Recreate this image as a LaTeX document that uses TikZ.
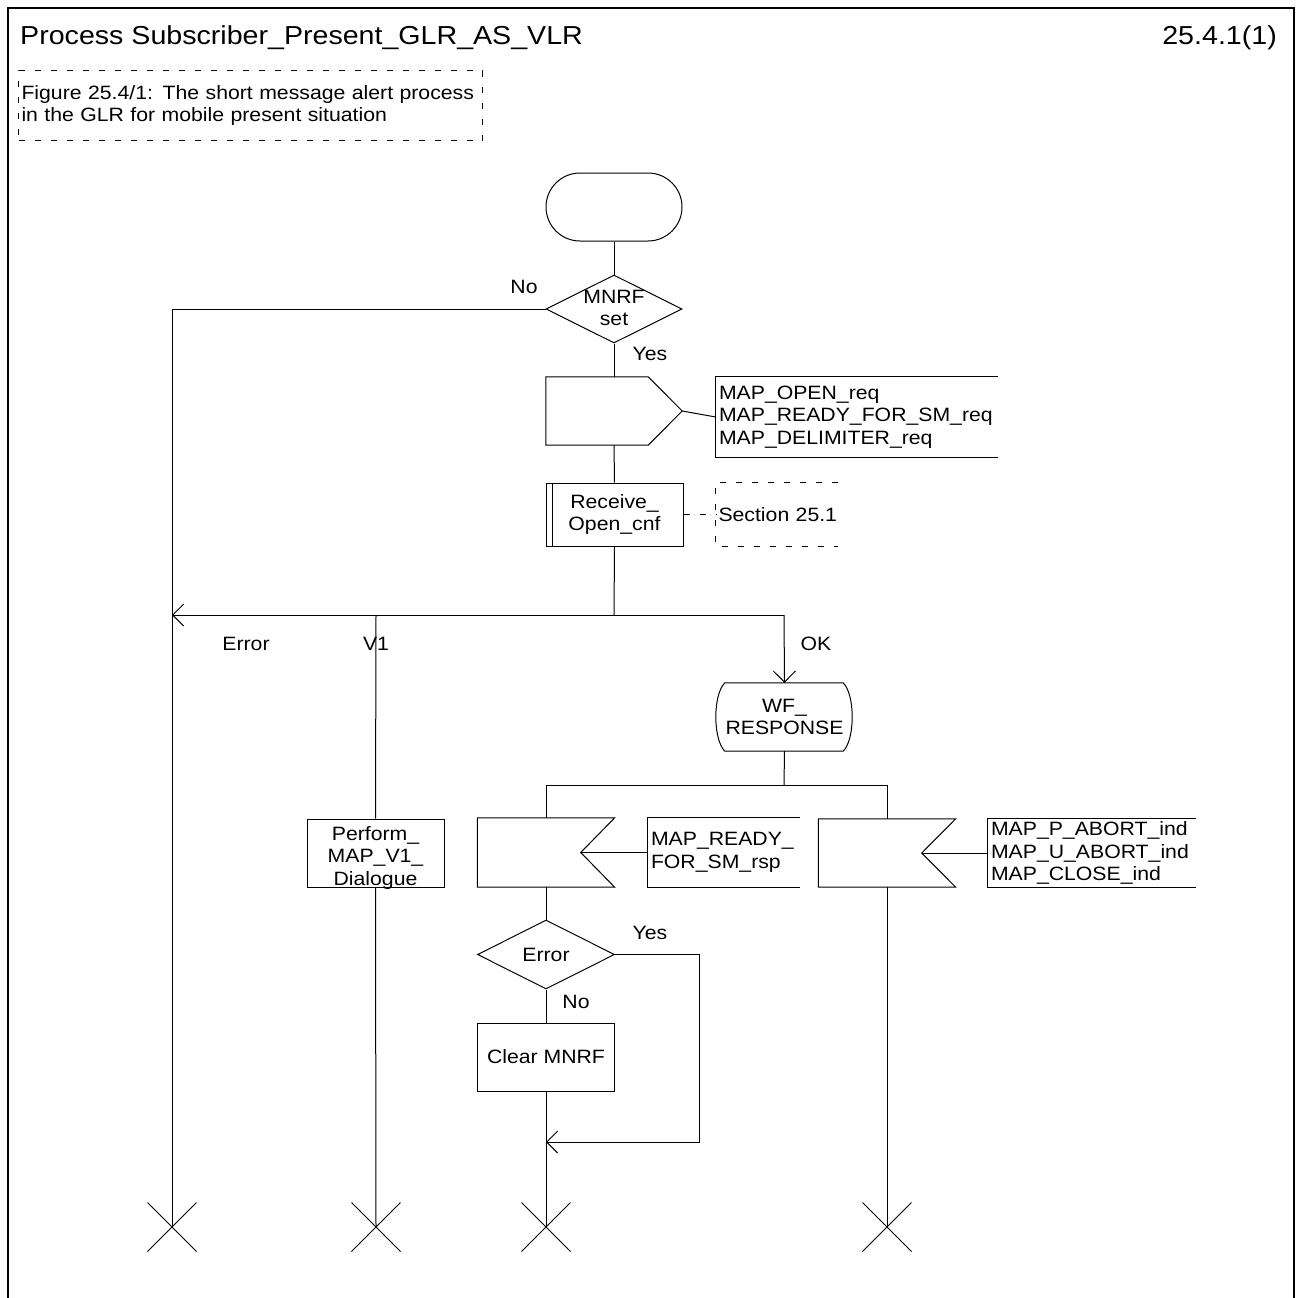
\documentclass[tikz,border=0pt]{standalone}
\usepackage{fontspec}
\setmainfont[FakeStretch=1.1]{Liberation Sans}
\usetikzlibrary{arrows.meta,shapes.geometric,shapes.misc}
\begin{document}
\begin{tikzpicture}[x=1pt,y=-1pt,
  every node/.style={font=\fontsize{19.3}{22.5}\selectfont, inner sep=0pt},
  ln/.style={line width=1pt},
  frame/.style={line width=2.5pt},
  cdash/.style={dash pattern=on 6pt off 10pt},
  arr/.style={-{Straight Barb[length=11pt,width=22pt]}},
  bigtxt/.style={font=\fontsize{26}{30}\selectfont},
  endx/.style={cross out, draw, line width=1pt, minimum size=48pt}]
\useasboundingbox (0,0) rectangle (1297,1298);
\draw[frame] (8,1298) -- (8,8) -- (1294,8) -- (1294,1298);
\node[bigtxt, anchor=west] (title) at (20,38) {Process Subscriber\_Present\_GLR\_AS\_VLR};
\node[bigtxt, anchor=east] (pagenum) at (1277,38) {25.4.1(1)};
\node[draw, ln, cdash, anchor=north west, minimum width=464pt, minimum height=70pt, text width=458pt, inner xsep=3pt, align=left] (fig) at (18,70) {Figure 25.4/1: The short message alert process\\in the GLR for mobile present situation};

% start
\node[draw, ln, rounded corners=34pt, minimum width=136pt, minimum height=68pt] (start) at (614,207) {};
% decision MNRF
\node[draw, ln, diamond, minimum width=136pt, minimum height=68pt, label={[align=center, yshift=1pt]center:{MNRF\\set}}] (mnrf) at (614,309) {};
\draw[ln] (start.south) -- (mnrf.north);
% output
\node[minimum width=136pt, minimum height=68pt] (out) at (614,411) {};
\draw[ln] (out.north west) -- ([xshift=-34pt]out.north east) -- (out.east) -- ([xshift=-34pt]out.south east) -- (out.south west) -- cycle;
\draw[ln] (mnrf.south) -- (out.north);
\node[minimum width=282pt, minimum height=80pt, text width=276pt, inner xsep=3pt, align=left] (outsig) at (857,417) {MAP\_OPEN\_req\\MAP\_READY\_FOR\_SM\_req\\MAP\_DELIMITER\_req};
\draw[ln] (outsig.north east) -- (outsig.north west) -- (outsig.south west) -- (outsig.south east);
\draw[ln] (out.east) -- (outsig.west);
% procedure
\node[draw, ln, minimum width=137pt, minimum height=63pt, align=center] (recv) at (614.5,514.5) {Receive\_\\Open\_cnf};
\draw[ln] ([xshift=7pt]recv.north west) -- ([xshift=7pt]recv.south west);
\draw[ln] (out.south) -- (recv.north);
\node[minimum width=122pt, minimum height=63pt, text width=117pt, inner xsep=2.5pt, align=left] (sec) at (777,514.5) {\mbox{Section 25.1}};
\draw[ln, cdash] (sec.north east) -- (sec.north west) -- (sec.south west) -- (sec.south east);
\draw[ln, cdash] (recv.east) -- (sec.west);

% crosses
\node[endx] (end1) at (172,1227) {};
\node[endx] (end2) at (376,1227) {};
\node[endx] (end3) at (546,1227) {};
\node[endx] (end4) at (887,1227) {};

% branch after procedure
\coordinate (br) at (614,615);
\coordinate (brL) at (172,615);
\coordinate (brV1) at (376,615);
\coordinate (brOK) at (784,615);
\draw[ln] (recv.south) -- (br);
\draw[ln, arr] (brOK) -- (brL);
\draw[ln] (mnrf.west) -| (end1.center);
\node (lNo) at (524,287) {No};
\node (lYes) at (650,354) {Yes};
\node (lErr) at (246,644) {Error};
\node (lV1) at (376,644) {V1};
\node (lOK) at (816,644) {OK};

% V1
\node[draw, ln, minimum width=137pt, minimum height=68pt, label={[align=center, yshift=-5pt]center:{Perform\_\\MAP\_V1\_\\Dialogue}}] (perf) at (375.5,853) {};
\draw[ln] (brV1) -- (perf.north);
\draw[ln] (perf.south) -- (end2.center);

% state
\node[minimum width=135pt, minimum height=68pt, align=center] (wf) at (784.5,717) {WF\_\\RESPONSE};
\draw[ln] ([xshift=8pt]wf.north west) -- ([xshift=-9pt]wf.north east)
  .. controls ([xshift=3pt,yshift=-12pt]wf.north east) and ([xshift=3pt,yshift=12pt]wf.south east) .. ([xshift=-9pt]wf.south east)
  -- ([xshift=8pt]wf.south west)
  .. controls ([xshift=-4pt,yshift=12pt]wf.south west) and ([xshift=-4pt,yshift=-12pt]wf.north west) .. cycle;
\draw[ln, arr] (brOK) -- (wf.north);

% branch after state
\coordinate (b2) at (784,785);
\coordinate (b2L) at (546,785);
\coordinate (b2R) at (887,785);
\draw[ln] (wf.south) -- (b2);
\draw[ln] (b2L) -- (b2R);

% input 1
\node[minimum width=137pt, minimum height=69pt] (in1) at (546,852.5) {};
\draw[ln] (in1.north west) -- (in1.north east) -- ([xshift=-34pt]in1.east) -- (in1.south east) -- (in1.south west) -- cycle;
\draw[ln] (b2L) -- (in1.north);
\node[minimum width=152pt, minimum height=69pt, text width=146pt, inner xsep=3pt, align=left] (in1sig) at (724,852.5) {MAP\_READY\_\\FOR\_SM\_rsp};
\draw[ln] (in1sig.north east) -- (in1sig.north west) -- (in1sig.south west) -- (in1sig.south east);
\draw[ln] ([xshift=-34pt]in1.east) -- (in1sig.west);

% input 2
\node[minimum width=137pt, minimum height=68pt] (in2) at (887,853) {};
\draw[ln] (in2.north west) -- (in2.north east) -- ([xshift=-34pt]in2.east) -- (in2.south east) -- (in2.south west) -- cycle;
\draw[ln] (b2R) -- (in2.north);
\node[minimum width=208pt, minimum height=68pt, text width=202pt, inner xsep=3pt, align=left] (in2sig) at (1092,853) {MAP\_P\_ABORT\_ind\\MAP\_U\_ABORT\_ind\\MAP\_CLOSE\_ind};
\draw[ln] (in2sig.north east) -- (in2sig.north west) -- (in2sig.south west) -- (in2sig.south east);
\draw[ln] ([xshift=-34pt]in2.east) -- (in2sig.west);
\draw[ln] (in2.south) -- (end4.center);

% error decision
\node[draw, ln, diamond, minimum width=137pt, minimum height=69pt, label={center:Error}] (err) at (546,954.5) {};
\draw[ln] (in1.south) -- (err.north);
\node[draw, ln, minimum width=137pt, minimum height=68pt] (clr) at (546,1057) {Clear MNRF};
\draw[ln] (err.south) -- (clr.north);
\draw[ln] (clr.south) -- (end3.center);
\coordinate (yc) at (699,1142);
\coordinate (merge) at (546,1142);
\draw[ln, arr] (err.east) -- (err.east -| yc) -- (yc) -- (merge);
\node (lYes2) at (650,933) {Yes};
\node (lNo2) at (576,1002) {No};
\end{tikzpicture}
\end{document}
